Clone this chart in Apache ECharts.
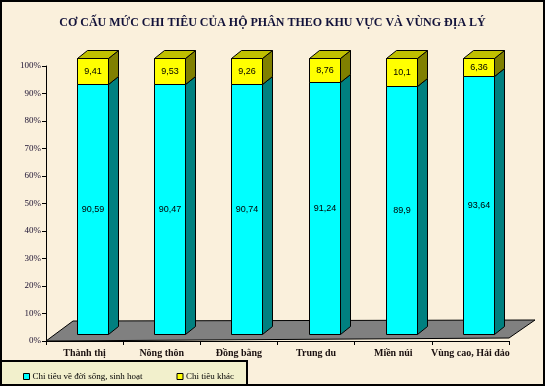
<!DOCTYPE html>
<html><head><meta charset="utf-8">
<script src="https://cdn.jsdelivr.net/npm/echarts@6/dist/echarts.min.js"></script>
<style>html,body{margin:0;padding:0;background:#faf0dc}#c{width:545px;height:386px}</style>
</head><body><div id="c"></div>
<script>
const categories = ['Thành thị', 'Nông thôn', 'Đồng bằng', 'Trung du', 'Miền núi', 'Vùng cao, Hải đảo'];
const livingShare = [90.59, 90.47, 90.74, 91.24, 89.9, 93.64];
const otherShare = [9.41, 9.53, 9.26, 8.76, 10.1, 6.36];
const seriesNames = ['Chi tiêu về đời sống, sinh hoạt', 'Chi tiêu khác'];

const fmt = v => String(v).replace('.', ',');
const livingData = livingShare.map((v, i) => [i, 0, v, v]);
const otherData = otherShare.map((v, i) => [i, livingShare[i], livingShare[i] + v, v]);

function makeRender(front, side, top, showTop) {
  return function (params, api) {
    const i = api.value(0), s = api.value(1), e = api.value(2), raw = api.value(3);
    const p0 = api.coord([i, s]), p1 = api.coord([i, e]);
    const w = api.size([1, 0])[0] * 0.4;
    const x0 = Math.round(p0[0] - w / 2) + 0.5, x1 = Math.round(p0[0] + w / 2) + 0.5;
    const yb = Math.round(p0[1]) + 0.5, yt = Math.round(p1[1]) + 0.5;
    const dx = 10, dy = -8;
    const stroke = {stroke: '#000', lineWidth: 1};
    const children = [
      {type: 'polygon', shape: {points: [[x1, yb], [x1 + dx, yb + dy], [x1 + dx, yt + dy], [x1, yt]]}, style: Object.assign({fill: side}, stroke)},
      {type: 'rect', shape: {x: x0, y: yt, width: x1 - x0, height: yb - yt}, style: Object.assign({fill: front}, stroke)}
    ];
    if (showTop) {
      children.push({type: 'polygon', shape: {points: [[x0, yt], [x0 + dx, yt + dy], [x1 + dx, yt + dy], [x1, yt]]}, style: Object.assign({fill: top}, stroke)});
    }
    children.push({type: 'text', style: {text: fmt(raw), x: (x0 + x1) / 2, y: (yb + yt) / 2, align: 'center', verticalAlign: 'middle', font: '9px "Liberation Sans", sans-serif', fill: '#000'}});
    return {type: 'group', children};
  };
}

const chart = echarts.init(document.getElementById('c'));
chart.setOption({
  backgroundColor: '#faf0dc',
  animation: false,
  title: {
    text: 'CƠ CẤU MỨC CHI TIÊU CỦA HỘ PHÂN THEO KHU VỰC VÀ VÙNG ĐỊA LÝ',
    left: 'center', top: 12,
    textStyle: {fontFamily: '"Liberation Serif", serif', fontWeight: 'bold', fontSize: 12, color: '#12123a'}
  },
  graphic: [
    {type: 'polygon', z: 0, shape: {points: [[46, 341], [509, 338], [535, 320], [73, 321]]}, style: {fill: '#808080', stroke: '#000', lineWidth: 1}},
    {type: 'rect', z: 0, shape: {x: 1, y: 361, width: 246, height: 24}, style: {fill: '#f2f0cc', stroke: '#000', lineWidth: 2}},
    {type: 'rect', z: 100, shape: {x: 1, y: 1, width: 543, height: 384}, style: {fill: 'none', stroke: '#000', lineWidth: 2}}
  ],
  legend: {
    data: seriesNames, left: 18, top: 367, itemWidth: 6, itemHeight: 6, itemGap: 34, icon: 'rect',
    itemStyle: {borderColor: '#000', borderWidth: 1},
    textStyle: {fontFamily: '"Liberation Serif", serif', fontSize: 9, color: '#000', padding: [0, 0, 0, -2]}
  },
  grid: [
    {left: 46, right: 36, top: 66, bottom: 45},
    {left: 54, right: 28, top: 58, bottom: 52}
  ],
  xAxis: [
    {type: 'category', gridIndex: 0, data: categories,
      axisLine: {lineStyle: {color: '#000', width: 1}},
      axisTick: {show: true, length: 4, lineStyle: {color: '#000'}},
      axisLabel: {interval: 0, margin: 7, fontFamily: '"Liberation Serif", serif', fontWeight: 'bold', fontSize: 10, color: '#1a1010'}},
    {type: 'category', gridIndex: 1, data: categories, show: false}
  ],
  yAxis: [
    {type: 'value', gridIndex: 0, min: 0, max: 100, interval: 10,
      axisLine: {show: true, lineStyle: {color: '#000', width: 1}},
      axisTick: {show: true, length: 4, lineStyle: {color: '#000'}},
      splitLine: {show: false},
      axisLabel: {margin: 5, formatter: '{value}%', fontFamily: '"Liberation Serif", serif', fontSize: 9, color: '#1a1030'}},
    {type: 'value', gridIndex: 1, min: 0, max: 100, show: false}
  ],
  series: [
    {name: seriesNames[0], type: 'custom', xAxisIndex: 1, yAxisIndex: 1, z: 5,
      itemStyle: {color: '#00ffff'}, data: livingData,
      encode: {x: 0, y: [1, 2]},
      renderItem: makeRender('#00ffff', '#008080', '#00c0c0', false)},
    {name: seriesNames[1], type: 'custom', xAxisIndex: 1, yAxisIndex: 1, z: 6,
      itemStyle: {color: '#ffff00'}, data: otherData,
      encode: {x: 0, y: [1, 2]},
      renderItem: makeRender('#ffff00', '#808000', '#c0c000', true)}
  ]
});
</script></body></html>
